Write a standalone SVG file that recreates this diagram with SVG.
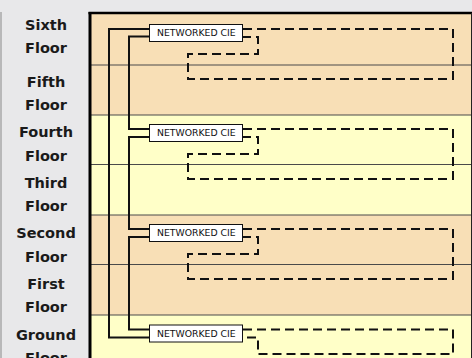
<svg xmlns="http://www.w3.org/2000/svg" width="472" height="358" viewBox="0 0 472 358">
<style>
.lbl{font-family:"DejaVu Sans","Liberation Sans",sans-serif;font-weight:bold;font-size:14.5px;fill:#1a1a1a;text-anchor:middle}
.box rect{fill:#ffffff;stroke:#111;stroke-width:1}
.box text{font-family:"DejaVu Sans","Liberation Sans",sans-serif;font-size:9.3px;fill:#111}
.solid{fill:none;stroke:#111;stroke-width:2}
.dash{fill:none;stroke:#111;stroke-width:2;stroke-dasharray:9 5}
.div{stroke:#4a4a4a;stroke-width:1.2}
.tan{fill:#f8dfb6}
.yel{fill:#ffffc8}
</style>
<rect x="0" y="0" width="472" height="358" fill="#e8e8ea"/>
<line x1="1" y1="12" x2="1" y2="358" stroke="#a8a8a8" stroke-width="1.5"/>
<g id="floors-bg">
<rect class="tan" x="90" y="13" width="382" height="102"/>
<rect class="yel" x="90" y="115" width="382" height="100"/>
<rect class="tan" x="90" y="215" width="382" height="100"/>
<rect class="yel" x="90" y="315" width="382" height="43"/>
<line class="div" x1="89" y1="65" x2="472" y2="65"/>
<line class="div" x1="89" y1="115" x2="472" y2="115"/>
<line class="div" x1="89" y1="164.5" x2="472" y2="164.5"/>
<line class="div" x1="89" y1="215" x2="472" y2="215"/>
<line class="div" x1="89" y1="264.5" x2="472" y2="264.5"/>
<line class="div" x1="89" y1="315" x2="472" y2="315"/>
<line x1="88.5" y1="13" x2="472" y2="13" stroke="#000" stroke-width="2.5"/>
<line x1="90" y1="12" x2="90" y2="358" stroke="#000" stroke-width="3"/>
<line x1="471.5" y1="13" x2="471.5" y2="358" stroke="#222" stroke-width="1"/>
</g>
<g id="labels">
<g id="lbl-sixth"><text class="lbl" x="46" y="30">Sixth</text><text class="lbl" x="46" y="53">Floor</text></g>
<g id="lbl-fifth"><text class="lbl" x="46" y="87">Fifth</text><text class="lbl" x="46" y="110">Floor</text></g>
<g id="lbl-fourth"><text class="lbl" x="46" y="137">Fourth</text><text class="lbl" x="46" y="161">Floor</text></g>
<g id="lbl-third"><text class="lbl" x="46" y="188">Third</text><text class="lbl" x="46" y="211">Floor</text></g>
<g id="lbl-second"><text class="lbl" x="46" y="238">Second</text><text class="lbl" x="46" y="262">Floor</text></g>
<g id="lbl-first"><text class="lbl" x="46" y="289">First</text><text class="lbl" x="46" y="312">Floor</text></g>
<g id="lbl-ground"><text class="lbl" x="46" y="340">Ground</text><text class="lbl" x="46" y="363">Floor</text></g>
</g>
<g id="connectors">
<path class="solid" d="M149,29 H109 V337.5 H149"/>
<path class="solid" d="M149,36.5 H129 V129 H149"/>
<path class="solid" d="M149,137 H129 V229 H149"/>
<path class="solid" d="M149,237 H129 V329.5 H149"/>
<path class="dash" d="M243,29 H453 V79 H188 V54 H258 V37 H243"/>
<path class="dash" d="M243,129 H453 V179 H188 V154 H258 V137 H243"/>
<path class="dash" d="M243,229 H453 V279 H188 V254 H258 V237 H243"/>
<path class="dash" d="M243,329.5 H453 V354 H258 V337.5 H243"/>
</g>
<g id="cie-6" class="box"><rect x="149.5" y="24.5" width="93" height="17"/><text x="157" y="36.3">NETWORKED CIE</text></g>
<g id="cie-4" class="box"><rect x="149.5" y="124.5" width="93" height="17"/><text x="157" y="136.3">NETWORKED CIE</text></g>
<g id="cie-2" class="box"><rect x="149.5" y="224.5" width="93" height="17"/><text x="157" y="236.3">NETWORKED CIE</text></g>
<g id="cie-g" class="box"><rect x="149.5" y="325" width="93" height="17"/><text x="157" y="336.8">NETWORKED CIE</text></g>
</svg>
